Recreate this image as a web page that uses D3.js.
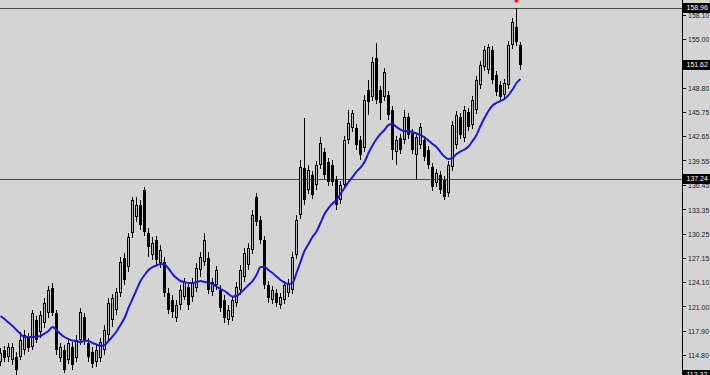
<!DOCTYPE html>
<html>
<head>
<meta charset="utf-8">
<script src="https://cdn.jsdelivr.net/npm/d3@7"></script>
<style>
	html, body { margin: 0; padding: 0; background: #d4d4d4; overflow: hidden; }
	svg { display: block; }
</style>
</head>
<body>
<div id="chart"></div>
<script>
// candles, one per bar, oldest first
const open = [113.91,115.44,114.55,114.16,114.55,114.55,115.44,117.09,115.82,119.25,117.72,118.87,120.14,123.32,120.14,114.42,115.44,114.16,115.82,114.42,
	116.71,119.63,116.33,115.18,113.91,114.42,115.44,117.34,119.25,120.52,122.68,127.13,126.00,130.31,132.35,133.87,135.78,130.31,127.52,129.42,
	126.50,126.63,122.68,121.79,119.50,121.16,122.18,123.45,122.18,123.32,125.61,126.63,127.13,122.81,123.70,123.07,121.79,119.25,119.63,121.41,
	123.07,124.72,126.24,128.15,134.89,131.97,129.42,123.70,121.79,122.68,121.16,121.79,122.68,123.07,127.52,132.60,138.58,135.78,137.69,136.42,
	138.96,140.61,139.34,138.96,137.05,134.51,136.42,142.14,143.67,143.67,142.14,141.12,148.50,147.61,152.56,148.50,147.61,147.86,145.95,140.61,
	142.40,142.14,145.06,143.03,140.23,141.50,142.14,140.87,138.71,136.67,137.69,137.05,135.40,138.71,141.50,145.06,142.40,145.70,144.05,145.95,
	149.13,151.42,151.04,153.58,150.40,149.13,147.86,149.13,154.22,156.51,154.22];
const high = [115.69,115.94,116.33,116.33,115.18,117.72,117.98,117.60,120.52,119.76,120.40,122.05,123.57,123.96,120.52,116.33,116.07,116.96,116.45,117.34,
	120.78,120.14,116.96,115.82,116.07,116.96,118.61,122.05,122.56,123.32,127.26,127.77,130.31,134.89,134.89,134.51,136.16,130.95,129.80,129.93,
	128.79,127.26,123.32,122.43,121.79,123.70,124.59,123.96,124.59,126.50,127.90,130.31,127.90,124.59,126.12,123.70,122.43,121.16,122.30,124.08,
	126.24,128.41,129.04,133.24,135.40,132.48,129.93,124.21,123.57,123.19,122.68,124.21,124.46,127.90,132.60,139.60,144.94,138.96,138.20,139.47,
	142.52,141.12,139.85,139.60,137.56,136.93,142.65,145.95,145.95,144.17,142.65,147.86,149.77,152.69,154.47,149.01,151.30,148.37,146.46,142.65,
	142.90,145.95,145.57,143.54,143.03,144.30,142.65,141.38,139.21,138.45,138.20,137.56,139.47,144.56,145.83,145.57,146.46,146.21,147.74,150.28,
	152.18,154.09,154.35,154.09,150.91,149.64,149.89,154.73,157.65,158.96,154.60];
const low = [113.40,113.91,113.91,113.53,112.10,114.16,114.80,115.18,115.44,116.33,116.96,118.23,119.50,119.76,114.80,113.91,112.51,113.66,112.89,113.91,
	116.07,116.07,113.91,113.15,113.27,113.91,114.80,116.71,118.36,119.89,122.18,123.70,125.35,129.68,131.71,130.70,129.93,127.26,126.88,126.24,
	125.86,122.18,120.01,119.50,119.00,120.52,121.79,120.52,121.54,122.81,124.72,126.12,122.56,122.30,123.07,120.27,118.87,118.61,119.12,120.90,
	122.43,124.08,125.61,127.64,131.20,128.91,123.19,121.41,121.28,120.90,120.65,121.28,122.18,122.56,127.01,132.09,133.87,135.27,134.64,135.78,
	138.45,137.18,136.29,136.29,133.24,134.00,135.91,141.63,143.16,140.87,139.60,140.61,145.32,147.10,146.72,144.68,147.10,144.68,139.60,138.96,
	140.36,141.63,142.27,140.36,137.05,140.99,139.47,138.45,135.65,136.16,135.27,134.51,134.89,138.20,140.99,142.27,141.89,143.28,143.54,145.44,
	148.63,150.91,150.53,149.26,147.74,147.10,147.35,148.63,153.71,154.09,151.04];
const close = [115.05,114.42,115.82,115.82,112.89,116.71,117.34,115.69,120.14,116.71,119.89,121.41,123.07,120.14,115.44,115.82,112.89,116.33,113.53,116.71,
	120.27,116.71,114.55,113.66,115.44,116.45,117.98,121.41,122.05,122.81,126.63,124.34,129.80,134.51,133.87,131.33,130.44,128.53,129.04,126.88,
	128.15,122.68,120.52,120.27,121.16,123.07,124.08,121.16,123.96,125.86,127.26,129.42,123.07,124.08,125.61,120.78,119.50,120.52,121.79,123.45,
	125.61,127.77,128.41,132.60,131.71,129.42,123.70,122.05,123.07,121.41,122.18,123.70,123.96,127.26,131.97,138.71,134.51,138.32,135.15,138.96,
	141.76,137.69,136.80,136.80,133.87,136.42,142.14,144.30,145.57,141.50,140.23,147.23,146.97,152.06,147.23,146.85,150.79,145.32,140.87,142.14,
	140.87,145.06,142.78,140.87,142.52,143.79,139.98,138.96,136.16,137.94,135.78,134.89,138.96,144.05,145.32,142.78,145.95,143.79,147.23,149.77,
	151.68,153.58,153.96,149.77,148.24,147.61,149.39,154.22,157.14,154.60,151.62];
// moving average
const maValues = [119.76,119.38,118.93,118.49,117.98,117.47,117.09,117.09,117.09,117.15,117.22,117.53,117.85,118.36,117.98,117.47,117.09,116.83,116.64,116.58,
	116.45,116.64,116.58,116.33,116.14,115.94,116.07,116.58,117.15,117.79,118.61,119.50,120.78,121.92,123.07,124.21,124.97,125.61,125.99,126.18,
	126.37,126.31,125.80,125.10,124.59,124.21,124.08,123.96,123.96,124.08,124.21,124.08,124.02,123.83,123.51,123.19,122.94,122.56,122.24,122.30,
	122.68,123.19,123.70,124.21,124.97,125.99,125.99,125.61,125.23,124.78,124.34,124.02,123.83,123.96,125.23,126.63,128.03,128.91,129.80,130.50,
	131.59,132.73,133.49,134.06,134.51,135.27,136.04,136.80,137.43,138.13,138.64,139.34,140.49,141.44,142.27,142.90,143.41,144.05,144.17,143.79,
	143.47,143.28,143.28,143.16,142.97,142.78,142.46,142.08,141.63,141.25,140.61,140.04,139.72,139.85,140.36,140.68,140.93,141.31,142.01,142.78,
	143.92,144.94,145.83,146.53,146.85,147.10,147.35,147.86,148.56,149.39,149.90];

const tickValues = [114.80,117.90,121.00,124.10,127.15,130.25,133.35,136.45,139.55,142.65,145.75,148.80,155.00,158.10];
const levelLines = [158.96, 137.24];
const priceLabels = [158.96, 151.62, 137.24, 112.32];
const markHigh = 158.96;

const width = 710, height = 375;
const axisX = 682;

const data = open.map((o, i) => ({ i, o, h: high[i], l: low[i], c: close[i] }));

const x = d3.scaleLinear().domain([0, 130]).range([0, 520]);
const y = d3.scaleLinear().domain([114.80, 158.10]).range([355, 14.5]);

const svg = d3.select('#chart').append('svg')
	.attr('width', width)
	.attr('height', height);

svg.append('rect')
	.attr('width', width)
	.attr('height', height)
	.attr('fill', '#d4d4d4');

// horizontal levels
svg.append('g')
	.selectAll('line')
	.data(levelLines)
	.join('line')
	.attr('x1', 0)
	.attr('x2', axisX)
	.attr('y1', (d) => Math.round(y(d)) + 0.5)
	.attr('y2', (d) => Math.round(y(d)) + 0.5)
	.attr('stroke', '#4a4a4a')
	.attr('stroke-width', 1);

// wicks
const candles = svg.append('g');
candles.selectAll('rect.wick')
	.data(data)
	.join('rect')
	.attr('class', 'wick')
	.attr('x', (d) => x(d.i))
	.attr('width', 1)
	.attr('y', (d) => Math.round(y(d.h)))
	.attr('height', (d) => Math.max(1, Math.round(y(d.l)) - Math.round(y(d.h))))
	.attr('fill', '#000');

// bodies
candles.selectAll('rect.body')
	.data(data)
	.join('rect')
	.attr('class', 'body')
	.attr('x', (d) => x(d.i) - 1)
	.attr('width', 3)
	.attr('y', (d) => Math.round(y(Math.max(d.o, d.c))))
	.attr('height', (d) => Math.max(1, Math.round(y(Math.min(d.o, d.c))) - Math.round(y(Math.max(d.o, d.c)))))
	.attr('fill', '#000');

// hollow up candles
candles.selectAll('rect.hollow')
	.data(data.filter((d) => d.c > d.o))
	.join('rect')
	.attr('class', 'hollow')
	.attr('x', (d) => x(d.i))
	.attr('width', 1)
	.attr('y', (d) => Math.round(y(d.c)) + 1)
	.attr('height', (d) => Math.max(0, Math.round(y(d.o)) - Math.round(y(d.c)) - 2))
	.attr('fill', '#b8b8b8');

// moving average
const line = d3.line()
	.x((d, i) => x(i) + 0.5)
	.y((d) => y(d))
	.curve(d3.curveMonotoneX);

svg.append('path')
	.datum(maValues)
	.attr('d', line)
	.attr('fill', 'none')
	.attr('stroke', '#1a1ad8')
	.attr('stroke-width', 2);

// high marker
svg.append('circle')
	.attr('cx', x(129) + 0.5)
	.attr('cy', y(markHigh) - 7)
	.attr('r', 2)
	.attr('fill', '#e02020');

// price axis
svg.append('line')
	.attr('x1', axisX + 0.5)
	.attr('x2', axisX + 0.5)
	.attr('y1', 0)
	.attr('y2', height)
	.attr('stroke', '#000');

const ticks = svg.append('g');
ticks.selectAll('line')
	.data(tickValues)
	.join('line')
	.attr('x1', axisX)
	.attr('x2', axisX + 4)
	.attr('y1', (d) => Math.round(y(d)) + 0.5)
	.attr('y2', (d) => Math.round(y(d)) + 0.5)
	.attr('stroke', '#000');

ticks.selectAll('text')
	.data(tickValues)
	.join('text')
	.attr('x', axisX + 6)
	.attr('y', (d) => y(d) + 1)
	.attr('dy', '0.35em')
	.attr('font-family', 'Liberation Sans, Arial, sans-serif')
	.attr('font-size', 7)
	.attr('fill', '#222')
	.text((d) => d.toFixed(2));

// black price tags
const tags = svg.append('g')
	.selectAll('g')
	.data(priceLabels)
	.join('g')
	.attr('transform', (d) => `translate(${axisX + 1},${Math.round(y(d))})`);

tags.append('rect')
	.attr('x', 0)
	.attr('y', -5)
	.attr('width', 27)
	.attr('height', 10)
	.attr('fill', '#000');

tags.append('text')
	.attr('x', 3.5)
	.attr('y', 0)
	.attr('dy', '0.35em')
	.attr('font-family', 'Liberation Sans, Arial, sans-serif')
	.attr('font-size', 7)
	.attr('fill', '#fff')
	.text((d) => d.toFixed(2));
</script>
</body>
</html>
